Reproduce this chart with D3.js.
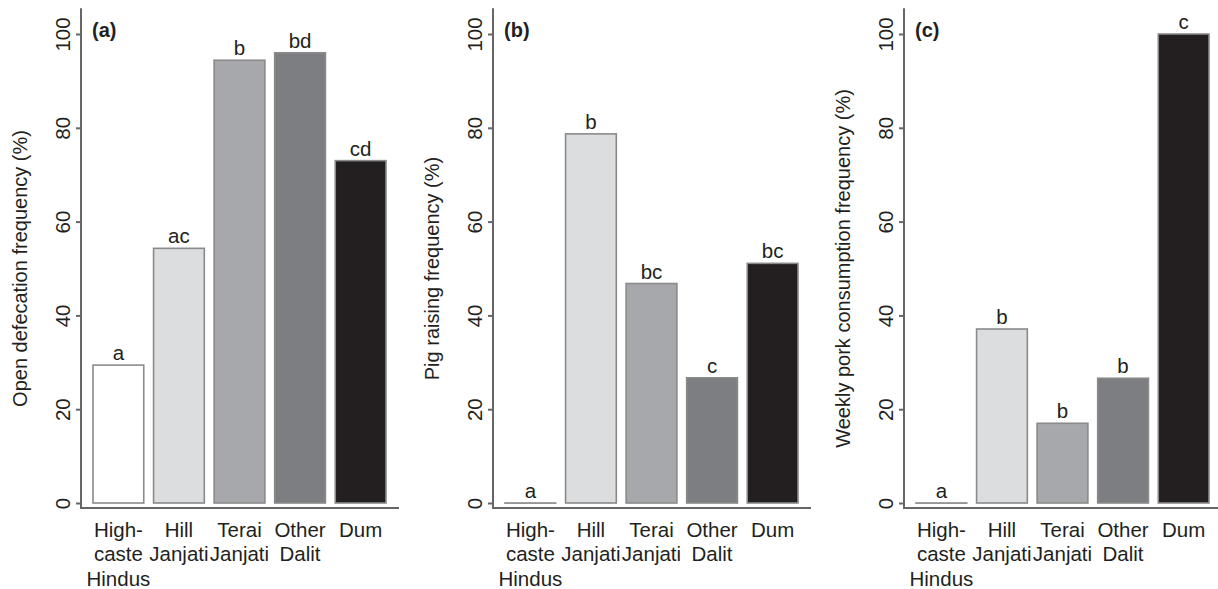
<!DOCTYPE html>
<meta charset="utf-8">
<style>
body { margin: 0; background: #fff; }
svg { display: block; }
text { font-family: "Liberation Sans", Arial, sans-serif; fill: #231f20; }
.axis line { stroke: #666; stroke-width: 2px; }
.axis path { display: none; }
.axis text { font-size: 20.5px; }
.bars rect { stroke: #8a8a8a; stroke-width: 1.6px; }
</style>

<svg width="1218" height="589"></svg>

<script src="https://d3js.org/d3.v7.min.js"></script>
<script>

// groups and their wrapped tick labels
var groups = ["High-caste Hindus", "Hill Janjati", "Terai Janjati", "Other Dalit", "Dum"];
var groupLines = [["High-", "caste", "Hindus"], ["Hill", "Janjati"], ["Terai", "Janjati"], ["Other", "Dalit"], ["Dum"]];

// values (%)
var openDefecation = [29.4, 54.3, 94.4, 96.0, 73.0];
var pigRaising = [0, 78.7, 46.8, 26.7, 51.1];
var porkConsumption = [0, 37.1, 17.0, 26.6, 100];

// significance letters
var lettersA = ["a", "ac", "b", "bd", "cd"];
var lettersB = ["a", "b", "bc", "c", "bc"];
var lettersC = ["a", "b", "b", "b", "c"];

var panelTags = ["(a)", "(b)", "(c)"];
var yTitles = ["Open defecation frequency (%)", "Pig raising frequency (%)", "Weekly pork consumption frequency (%)"];
var yTicks = [0, 20, 40, 60, 80, 100];
var barFills = ["#ffffff", "#dcdddf", "#a7a8ac", "#7d7e82", "#231f20"];

var panels = [
  {values: openDefecation, letters: lettersA},
  {values: pigRaising, letters: lettersB},
  {values: porkConsumption, letters: lettersC}
];
var panelLeft = [81, 493, 904];

var svg = d3.select("svg");

var y = d3.scaleLinear().domain([0, 100]).range([503, 34]);

panels.forEach(function(p, k) {
  var left = panelLeft[k];
  var g = svg.append("g");

  var x = d3.scaleBand()
      .domain(groups)
      .range([left + 12, left + 305])
      .paddingInner(0.162)
      .paddingOuter(0);

  // y axis
  var yAxis = g.append("g")
      .attr("class", "axis")
      .attr("transform", "translate(" + left + ",0)")
      .call(d3.axisLeft(y).tickValues(yTicks).tickSize(5).tickFormat(d3.format("d")));
  yAxis.selectAll("text")
      .attr("x", 0)
      .attr("y", -19)
      .attr("dy", null)
      .attr("transform", "rotate(-90)")
      .attr("text-anchor", "middle")
      .attr("dominant-baseline", "central");
  yAxis.append("line")
      .attr("x1", 0).attr("x2", 0)
      .attr("y1", y(105.5)).attr("y2", y(0) + 6);

  // x axis line
  g.append("g").attr("class", "axis")
    .append("line")
      .attr("x1", left - 1).attr("x2", left + 318)
      .attr("y1", y(0) + 5).attr("y2", y(0) + 5);

  // bars (zero bars still show as a thin outline)
  g.append("g").attr("class", "bars")
    .selectAll("rect")
    .data(p.values)
    .enter().append("rect")
      .attr("x", function(d, i) { return x(groups[i]); })
      .attr("y", function(d) { return y(d); })
      .attr("width", x.bandwidth())
      .attr("height", function(d) { return Math.max(y(0) - y(d), 0.1); })
      .attr("fill", function(d, i) { return barFills[i]; });

  // letters above bars
  g.selectAll("text.letter")
    .data(p.values)
    .enter().append("text")
      .attr("class", "letter")
      .attr("x", function(d, i) { return x(groups[i]) + x.bandwidth() / 2; })
      .attr("y", function(d) { return y(d) - 5; })
      .attr("text-anchor", "middle")
      .style("font-size", "20.5px")
      .text(function(d, i) { return p.letters[i]; });

  // category labels
  var lab = g.selectAll("text.cat")
    .data(groupLines)
    .enter().append("text")
      .attr("class", "cat")
      .attr("text-anchor", "middle")
      .style("font-size", "20.5px");
  lab.each(function(lines, i) {
    var cx = x(groups[i]) + x.bandwidth() / 2;
    d3.select(this).selectAll("tspan")
      .data(lines)
      .enter().append("tspan")
        .attr("x", cx)
        .attr("y", function(d, j) { return 537 + j * 24.3; })
        .text(function(d) { return d; });
  });

  // y title
  g.append("text")
      .attr("transform", "translate(" + (left - 61) + "," + y(50) + ") rotate(-90)")
      .attr("text-anchor", "middle")
      .attr("dominant-baseline", "central")
      .style("font-size", "20px")
      .text(yTitles[k]);

  // panel tag
  g.append("text")
      .attr("x", left + 11)
      .attr("y", 37)
      .style("font-size", "20px")
      .style("font-weight", "bold")
      .text(panelTags[k]);
});

</script>
